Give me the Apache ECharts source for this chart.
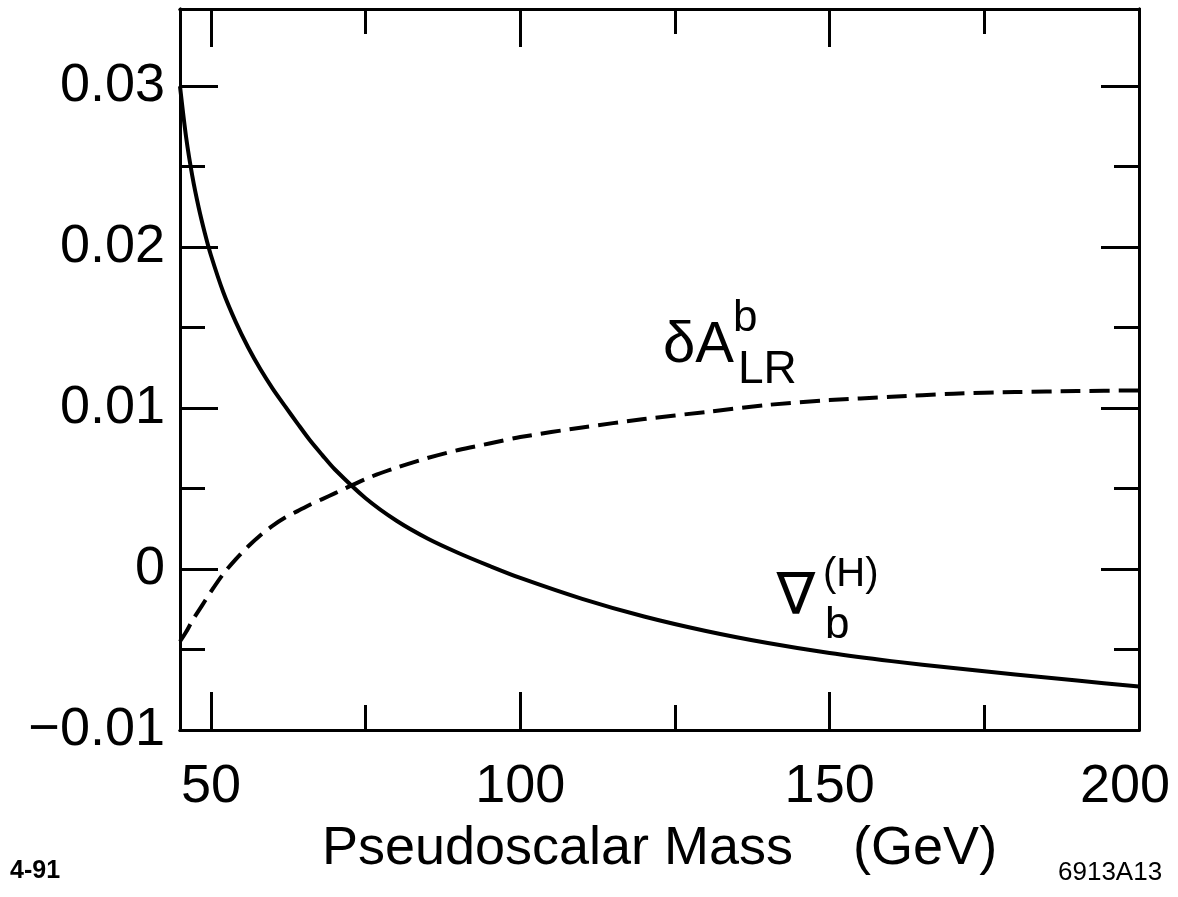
<!DOCTYPE html>
<html>
<head>
<meta charset="utf-8">
<script src="https://cdn.jsdelivr.net/npm/echarts@6/dist/echarts.min.js"></script>
<style>
  html, body { margin: 0; padding: 0; background: #fff; }
  #main { width: 1178px; height: 897px; }
</style>
</head>
<body>
<div id="main"></div>
<script>
// pseudoscalar mass (GeV)
const mass = [45, 46, 47, 48, 49, 50, 52, 54, 56, 58, 60, 62, 64, 66, 68, 70, 75, 80, 85, 90, 95, 100, 110, 120, 130, 140, 150, 160, 170, 180, 190, 200];
// solid curve, nabla_b^(H)
const nablaH = [0.0300, 0.0268, 0.0244, 0.0225, 0.0209, 0.0195, 0.0172, 0.01536, 0.01378, 0.01241, 0.0112, 0.01011, 0.00904, 0.0080, 0.00708, 0.0062, 0.0044, 0.0030, 0.0019, 0.0010, 0.0002, -0.00055, -0.00185, -0.00295, -0.00385, -0.0046, -0.00522, -0.00572, -0.00615, -0.00655, -0.00693, -0.0073];
// dashed curve, delta A_LR^b
const deltaALR = [-0.0045, -0.0039, -0.0032, -0.0026, -0.0020, -0.0014, -0.0003, 0.0006, 0.0014, 0.0021, 0.0027, 0.0032, 0.0036, 0.0040, 0.00435, 0.0047, 0.0056, 0.0063, 0.0069, 0.0074, 0.0078, 0.0082, 0.0088, 0.00932, 0.00976, 0.0102, 0.0105, 0.0107, 0.0109, 0.0110, 0.01106, 0.0111];

const xMajor = [50, 100, 150, 200];
const xMinor = [75, 125, 175];
const yMajor = [-0.01, 0, 0.01, 0.02, 0.03];
const yMinor = [-0.005, 0.005, 0.015, 0.025];

// where the curve names sit, in data units
const dALabelAt = [123.07, 0.01385];
const nablaLabelAt = [144.56, -0.00165];

const FONT = '"Liberation Sans", Arial, Helvetica, sans-serif';
const X_MIN = 45, X_MAX = 200, Y_MIN = -0.01, Y_MAX = 0.0348;

const chart = echarts.init(document.getElementById('main'), null, { renderer: 'canvas' });

function xAx(pos, ticks, len, withLabels) {
  return {
    type: 'value', position: pos, min: X_MIN, max: X_MAX,
    axisLine: { show: true, onZero: false, lineStyle: { color: '#000', width: 3 } },
    axisTick: { show: true, inside: true, length: len, customValues: ticks, lineStyle: { color: '#000', width: 3 } },
    axisLabel: withLabels ? {
      show: true, customValues: ticks, margin: 30, color: '#000',
      fontFamily: FONT, fontSize: 54,
      // last label is pulled in a little so it stays on the page
      formatter: function (v) { return v === X_MAX ? '{last|' + v + '}' : String(v); },
      rich: { last: { padding: [0, 28, 0, 0], color: '#000', fontFamily: FONT, fontSize: 54 } }
    } : { show: false },
    splitLine: { show: false },
    name: withLabels ? 'Pseudoscalar Mass    (GeV)' : '',
    nameLocation: 'middle', nameGap: 92,
    nameTextStyle: { color: '#000', fontFamily: FONT, fontSize: 54 }
  };
}

function yAx(pos, ticks, len, withLabels) {
  return {
    type: 'value', position: pos, min: Y_MIN, max: Y_MAX,
    axisLine: { show: true, onZero: false, lineStyle: { color: '#000', width: 3 } },
    axisTick: { show: true, inside: true, length: len, customValues: ticks, lineStyle: { color: '#000', width: 3 } },
    axisLabel: withLabels ? {
      show: true, customValues: ticks, margin: 15, color: '#000',
      fontFamily: FONT, fontSize: 54,
      formatter: function (v) { return (Math.round(v * 100) / 100).toString().replace('-', '\u2212'); }
    } : { show: false },
    splitLine: { show: false }
  };
}

const option = {
  animation: false,
  backgroundColor: '#fff',
  grid: { left: 180, right: 39, top: 9, bottom: 167, outerBoundsMode: 'none', containLabel: false },
  xAxis: [
    xAx('bottom', xMajor, 38, true),
    xAx('bottom', xMinor, 25, false),
    xAx('top', xMajor, 38, false),
    xAx('top', xMinor, 25, false)
  ],
  yAxis: [
    yAx('left', yMajor, 38, true),
    yAx('left', yMinor, 25, false),
    yAx('right', yMajor, 38, false),
    yAx('right', yMinor, 25, false)
  ],
  series: [
    {
      name: 'nablaH', type: 'line', xAxisIndex: 0, yAxisIndex: 0,
      data: mass.map((m, i) => [m, nablaH[i]]),
      showSymbol: false, smooth: 0.3,
      lineStyle: { color: '#000', width: 4, join: 'round' }
    },
    {
      name: 'deltaALR', type: 'line', xAxisIndex: 0, yAxisIndex: 0,
      data: mass.map((m, i) => [m, deltaALR[i]]),
      showSymbol: false, smooth: 0.3,
      lineStyle: { color: '#000', width: 4, type: [20, 9], join: 'round' }
    }
  ]
};
chart.setOption(option);

// curve names and plate marks
const pa = chart.convertToPixel({ gridIndex: 0 }, dALabelAt);
const pn = chart.convertToPixel({ gridIndex: 0 }, nablaLabelAt);
const txt = (s, x, y, size, extra) => Object.assign({
  type: 'text', x: x, y: y,
  style: Object.assign({ text: s, fill: '#000', font: size + 'px ' + FONT, align: 'left', verticalAlign: 'middle' }, extra || {})
});

chart.setOption({
  graphic: [
    {
      type: 'group', x: pa[0], y: pa[1],
      children: [
        txt('\u03b4A', 0, 0, 58),
        txt('b', 70, -27, 44),
        txt('LR', 75, 24, 46)
      ]
    },
    {
      type: 'group', x: pn[0], y: pn[1],
      children: [
        txt('\u2207', 0, 3, 58, { align: 'center', font: '58px "DejaVu Sans", sans-serif' }),
        txt('(H)', 27, -21, 40),
        txt('b', 29, 30, 44)
      ]
    },
    txt('4-91', 10, 871, 25, { font: 'bold 25px ' + FONT }),
    txt('6913A13', 1058, 873, 26)
  ]
});
</script>
</body>
</html>
